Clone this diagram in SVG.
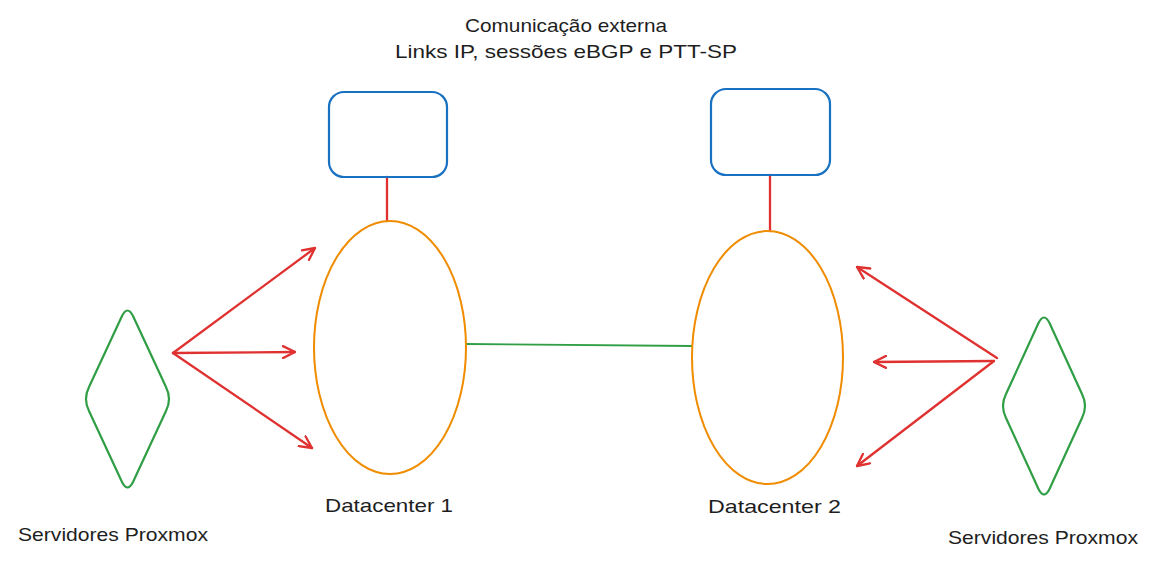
<svg xmlns="http://www.w3.org/2000/svg" width="1161" height="576" viewBox="0 0 1161 576">
<style>
.t{font-family:"Liberation Sans","DejaVu Sans",sans-serif;font-size:19px;fill:#1e1e1e}
.box{fill:none;stroke:#1971c2;stroke-width:2.2}
.dc{fill:none;stroke:#f08c00;stroke-width:2}
.srv{fill:none;stroke:#2f9e44;stroke-width:2.2;stroke-linejoin:round}
.red{fill:none;stroke:#e03131;stroke-width:2.3;stroke-linecap:round}
.grn{fill:none;stroke:#2f9e44;stroke-width:1.8}
</style>
<defs>
<marker id="ah" viewBox="0 0 14 14" refX="13" refY="7" markerWidth="14" markerHeight="14" markerUnits="userSpaceOnUse" orient="auto">
<path d="M1 1 L13 7 L1 13" fill="none" stroke="#e03131" stroke-width="2.3" stroke-linecap="round" stroke-linejoin="round"/>
</marker>
</defs>
<rect width="1161" height="576" fill="#ffffff"/>
<text class="t" x="566" y="32" text-anchor="middle" textLength="202" lengthAdjust="spacingAndGlyphs">Comunicação externa</text>
<text class="t" x="566" y="58" text-anchor="middle" textLength="342" lengthAdjust="spacingAndGlyphs">Links IP, sessões eBGP e PTT-SP</text>
<g id="connectors">
<line class="red" x1="387" y1="177" x2="387" y2="221"/>
<line class="red" x1="770" y1="175" x2="770" y2="231"/>
<line class="grn" x1="466" y1="344" x2="692" y2="346"/>
<line class="red" x1="173" y1="353" x2="315" y2="248" marker-end="url(#ah)"/>
<line class="red" x1="173" y1="353" x2="295" y2="352" marker-end="url(#ah)"/>
<line class="red" x1="173" y1="353" x2="312" y2="448" marker-end="url(#ah)"/>
<line class="red" x1="997" y1="358" x2="857" y2="267" marker-end="url(#ah)"/>
<line class="red" x1="994" y1="361" x2="874" y2="362" marker-end="url(#ah)"/>
<line class="red" x1="994" y1="361" x2="857" y2="466" marker-end="url(#ah)"/>
</g>
<g id="ext1"><rect class="box" x="329" y="92" width="118" height="85" rx="15"/></g>
<g id="ext2"><rect class="box" x="711" y="89" width="119" height="86" rx="15"/></g>
<g id="dc1">
<ellipse class="dc" cx="390" cy="347.5" rx="76" ry="126.5"/>
<text class="t" x="389" y="512" text-anchor="middle" textLength="128" lengthAdjust="spacingAndGlyphs">Datacenter 1</text>
</g>
<g id="dc2">
<ellipse class="dc" cx="767.5" cy="357.5" rx="75.5" ry="126.5"/>
<text class="t" x="774.5" y="513" text-anchor="middle" textLength="133" lengthAdjust="spacingAndGlyphs">Datacenter 2</text>
</g>
<g id="srv1">
<path class="srv" d="M122 316 Q127.5 305 133 316 L166 387 Q172 399 166 411 L133 482 Q127.5 493 122 482 L89 411 Q83 399 89 387 Z"/>
<text class="t" x="113" y="541" text-anchor="middle" textLength="190" lengthAdjust="spacingAndGlyphs">Servidores Proxmox</text>
</g>
<g id="srv2">
<path class="srv" d="M1038.5 323 Q1044 312 1049.5 323 L1082 394 Q1088 406 1082 418 L1049.5 489 Q1044 500 1038.5 489 L1006 418 Q1000 406 1006 394 Z"/>
<text class="t" x="1043" y="544" text-anchor="middle" textLength="190" lengthAdjust="spacingAndGlyphs">Servidores Proxmox</text>
</g>
</svg>
